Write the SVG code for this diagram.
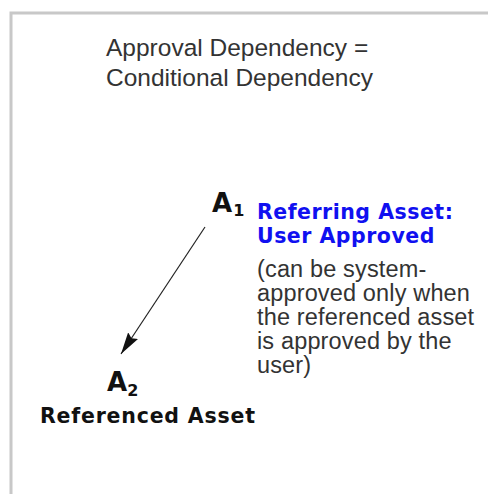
<svg xmlns="http://www.w3.org/2000/svg" width="488" height="494" viewBox="0 0 488 494">
  <defs>
    <style>
      .frame { fill: none; stroke: #c8c8c8; stroke-width: 3; }
      .title { font-family: "Liberation Sans", Arial, sans-serif; font-size: 24.5px; fill: #333333; }
      .note { font-family: "Liberation Sans", Arial, sans-serif; font-size: 23.5px; letter-spacing: 0.15px; fill: #333333; }
      .blue { font-family: "DejaVu Sans", Verdana, sans-serif; font-size: 20.5px; font-weight: bold; letter-spacing: 0.5px; fill: #1010f0; }
      .label { font-family: "DejaVu Sans", Verdana, sans-serif; font-size: 20.5px; font-weight: bold; letter-spacing: 0.8px; fill: #111111; }
      .sym { font-family: "DejaVu Sans", Verdana, sans-serif; font-size: 26px; font-weight: bold; fill: #111111; }
      .sub { font-family: "DejaVu Sans", Verdana, sans-serif; font-size: 16px; font-weight: bold; fill: #111111; }
      .edge { stroke: #222222; stroke-width: 1.2; fill: none; }
    </style>
    <marker id="arrow" viewBox="0 0 22 12" refX="22" refY="6" markerWidth="22" markerHeight="12" markerUnits="userSpaceOnUse" orient="auto">
      <path d="M0,0 L22,6 L0,12 L3,6 z" fill="#111111"/>
    </marker>
  </defs>

  <path class="frame" d="M11,494 L11,13 L488,13"/>

  <g id="title">
    <text class="title" x="106" y="56">Approval Dependency =</text>
    <text class="title" x="106" y="86">Conditional Dependency</text>
  </g>

  <g id="connectors">
    <line class="edge" x1="205" y1="227" x2="121" y2="354" marker-end="url(#arrow)"/>
  </g>

  <g id="node-a1">
    <text class="sym" x="212" y="212">A<tspan class="sub" dx="1" dy="4">1</tspan></text>
    <text class="blue" x="257" y="219">Referring Asset:</text>
    <text class="blue" x="257" y="243">User Approved</text>
    <text class="note" x="257" y="277">(can be system-</text>
    <text class="note" x="257" y="301">approved only when</text>
    <text class="note" x="257" y="325">the referenced asset</text>
    <text class="note" x="257" y="349">is approved by the</text>
    <text class="note" x="257" y="373">user)</text>
  </g>

  <g id="node-a2">
    <text class="sym" x="107" y="391">A<tspan class="sub" dx="0" dy="5">2</tspan></text>
    <text class="label" x="40" y="423">Referenced Asset</text>
  </g>
</svg>
